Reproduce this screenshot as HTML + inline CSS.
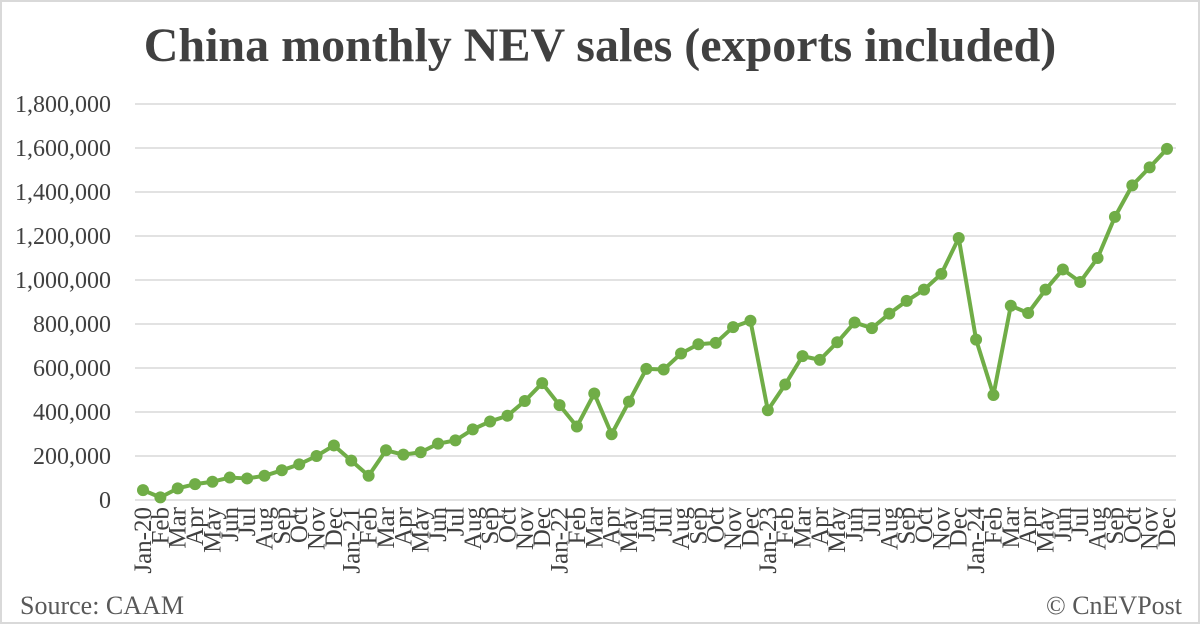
<!DOCTYPE html>
<html><head><meta charset="utf-8"><style>
html,body{margin:0;padding:0;background:#fff}
#wrap{position:relative;width:1200px;height:624px;overflow:hidden}
svg{display:block}
</style></head><body>
<div id="wrap">
<svg id="chart" width="1200" height="624">
<rect x="1" y="1" width="1198" height="622" fill="#fff" stroke="#d9d9d9" stroke-width="2"/>
<text x="600" y="61" text-anchor="middle" font-family="Liberation Serif, serif" font-weight="bold" font-size="48" fill="#404040">China monthly NEV sales (exports included)</text>
<g id="grid"></g><g id="ylabels"></g><g id="xlabels"></g><g id="series"></g>
<text x="20" y="614" font-family="Liberation Serif, serif" font-size="26" fill="#595959">Source: CAAM</text>
<text x="1182" y="614" text-anchor="end" font-family="Liberation Serif, serif" font-size="26" fill="#595959">© CnEVPost</text>
</svg>
</div>
<script>
const categories=["Jan-20","Feb","Mar","Apr","May","Jun","Jul","Aug","Sep","Oct","Nov","Dec","Jan-21","Feb","Mar","Apr","May","Jun","Jul","Aug","Sep","Oct","Nov","Dec","Jan-22","Feb","Mar","Apr","May","Jun","Jul","Aug","Sep","Oct","Nov","Dec","Jan-23","Feb","Mar","Apr","May","Jun","Jul","Aug","Sep","Oct","Nov","Dec","Jan-24","Feb","Mar","Apr","May","Jun","Jul","Aug","Sep","Oct","Nov","Dec"];
const sales=[45000,12000,53000,72000,83000,102000,98000,110000,135000,162000,200000,248000,179000,110000,226000,206000,217000,256000,271000,321000,357000,383000,450000,531000,431000,334000,484000,299000,447000,596000,593000,666000,708000,714000,786000,815000,408000,525000,654000,637000,717000,807000,781000,847000,905000,956000,1028000,1191000,729000,477000,883000,850000,956000,1048000,991000,1100000,1287000,1430000,1512000,1596000];
const yTicks=[0,200000,400000,600000,800000,1000000,1200000,1400000,1600000,1800000];
const yTickLabels=["0","200,000","400,000","600,000","800,000","1,000,000","1,200,000","1,400,000","1,600,000","1,800,000"];
const NS="http://www.w3.org/2000/svg";
const x0=143,x1=1167,y0=500,y1=104,yMax=1800000;
function xS(i){return x0+(x1-x0)*i/(categories.length-1);}
function yS(v){return y0-(y0-y1)*v/yMax;}
function mk(tag,attrs,parent){const e=document.createElementNS(NS,tag);for(const k in attrs)e.setAttribute(k,attrs[k]);parent.appendChild(e);return e;}
const grid=document.getElementById('grid'),yl=document.getElementById('ylabels'),xl=document.getElementById('xlabels'),ser=document.getElementById('series');
yTicks.forEach((t,i)=>{
  const l=mk('line',{x1:135,x2:1176,y1:yS(t),y2:yS(t),stroke:'#d9d9d9','stroke-width':1.5},grid);
  
  
  const tx=mk('text',{x:111,y:yS(t)+8,'text-anchor':'end','font-family':'Liberation Serif, serif','font-size':24,fill:'#404040'},yl);
  tx.textContent=yTickLabels[i];
  
  
});
categories.forEach((c,i)=>{
  const x=xS(i)+8,y=507;
  const tx=mk('text',{x:x,y:y,'text-anchor':'end',transform:`rotate(-90 ${x} ${y})`,'font-family':'Liberation Serif, serif','font-size':25,fill:'#404040'},xl);
  tx.textContent=c;
  
  
});
const pts=sales.map((v,i)=>xS(i)+','+yS(v)).join(' ');
const pl=mk('polyline',{points:pts,fill:'none',stroke:'#70ad47','stroke-width':4,'stroke-linejoin':'round'},ser);


sales.forEach((v,i)=>{
  const c=mk('circle',{cx:xS(i),cy:yS(v),r:6,fill:'#70ad47'},ser);
  
  
});
</script>
</body></html>
